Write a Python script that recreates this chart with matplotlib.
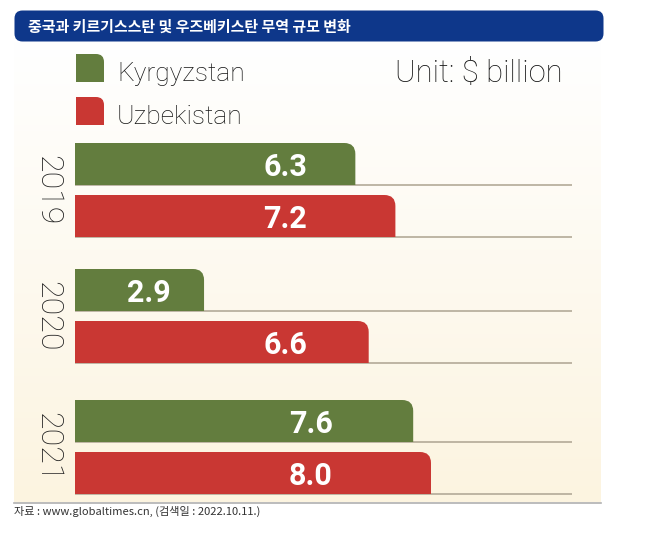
import matplotlib
matplotlib.use("Agg")
import matplotlib.pyplot as plt
import numpy as np
from matplotlib.patches import FancyBboxPatch, PathPatch
from matplotlib.path import Path

# datos
years = ["2019", "2020", "2021"]
series = ["Kyrgyzstan", "Uzbekistan"]
kyrgyzstan = [6.3, 2.9, 7.6]
uzbekistan = [7.2, 6.6, 8.0]
label_x = [[4.73, 1.65, 5.3], [4.73, 4.73, 5.3]]

title = "중국과 키르기스스탄 및 우즈베키스탄 무역 규모 변화"
source = "자료 : www.globaltimes.cn, (검색일 : 2022.10.11.)"
unit = "Unit: $ billion"

GREEN = "#637d3e"
RED = "#c93733"
BLUE = "#0e378a"
W, H = 646, 534

fig = plt.figure(figsize=(W / 100, H / 100), dpi=100)

# capa de fondo en pixeles
bg = fig.add_axes([0, 0, 1, 1])
bg.set_xlim(0, W)
bg.set_ylim(H, 0)
bg.axis("off")

grad = np.linspace(0, 1, 256).reshape(-1, 1)
top = np.array([1.0, 1.0, 1.0])
bottom = np.array([0xfc, 0xf4, 0xe0]) / 255
img = top + (bottom - top) * grad[..., None]
bg.imshow(img, extent=(14, 601, 502, 41), aspect="auto", zorder=0)
bg.plot([14, 601], [502.5, 502.5], color="#b0b0b0", lw=1.2, zorder=1)

bg.add_patch(FancyBboxPatch((17, 13), 584, 26, boxstyle="round,pad=2.5,rounding_size=8",
                            fc=BLUE, ec="none", zorder=2))
bg.text(28, 26.5, title, color="white", fontsize=10.8, fontweight="bold",
        family=["Noto Sans CJK KR", "DejaVu Sans"], va="center", ha="left", zorder=3)


def rounded_bar(ax, x0, x1, ytop, ybot, rx, ry, color, zorder=3):
    verts = [(x0, ybot), (x0, ytop), (x1 - rx, ytop), (x1, ytop), (x1, ytop + ry),
             (x1, ybot), (x0, ybot)]
    codes = [Path.MOVETO, Path.LINETO, Path.LINETO, Path.CURVE3, Path.CURVE3,
             Path.LINETO, Path.CLOSEPOLY]
    ax.add_patch(PathPatch(Path(verts, codes), fc=color, ec="none", zorder=zorder))


# leyenda
for i, (name, col) in enumerate(zip(series, [GREEN, RED])):
    y0 = 54 + i * 43
    rounded_bar(bg, 76, 104, y0, y0 + 28, 8, 8, col)
    bg.text(117, y0 + 27, name, fontsize=19, color="#151515", family="Roboto",
            fontweight="light", va="baseline", ha="left")
bg.text(395, 82, unit, fontsize=22.3, color="#151515", family="Roboto",
        fontweight="light", va="baseline", ha="left")

bg.text(14, 511, source, fontsize=8, color="#333333",
        family=["Noto Sans CJK KR", "DejaVu Sans"], va="center", ha="left")

# barras
ax = fig.add_axes([75 / W, 1 - 503 / H, (572 - 75) / W, (503 - 130) / H])
ax.patch.set_alpha(0)
ax.axis("off")
xmax = (572 - 75) / 44.5
ax.set_xlim(0, xmax)
ax.set_ylim(503, 130)

group_y = np.array([164, 290, 421])
bar_h = 42
offsets = [0, 52]
px_x = xmax / (572 - 75)

for s, (vals, col) in enumerate(zip([kyrgyzstan, uzbekistan], [GREEN, RED])):
    ys = group_y + offsets[s]
    bars = ax.barh(ys, vals, height=bar_h, color=col)
    for j, b in enumerate(bars):
        b.set_visible(False)
        x0, w = b.get_x(), b.get_width()
        yt, yb = b.get_y(), b.get_y() + b.get_height()
        rounded_bar(ax, x0, x0 + w, yt, yb, 11 * px_x, 11, col)
        ax.plot([0, xmax], [yb, yb], color="#b3aa98", lw=1.2, zorder=2)
        ax.text(label_x[s][j], (yt + yb) / 2, f"{vals[j]:.1f}", color="white",
                fontsize=22, fontweight="bold", family="Roboto",
                ha="center", va="center_baseline", zorder=4)

for j, yr in enumerate(years):
    bg.text(47.5, group_y[j] + 26, yr, fontsize=23, rotation=-90, color="#222222",
            family="Roboto", fontweight="light", ha="center", va="center")

fig.savefig("out.png", dpi=100)
